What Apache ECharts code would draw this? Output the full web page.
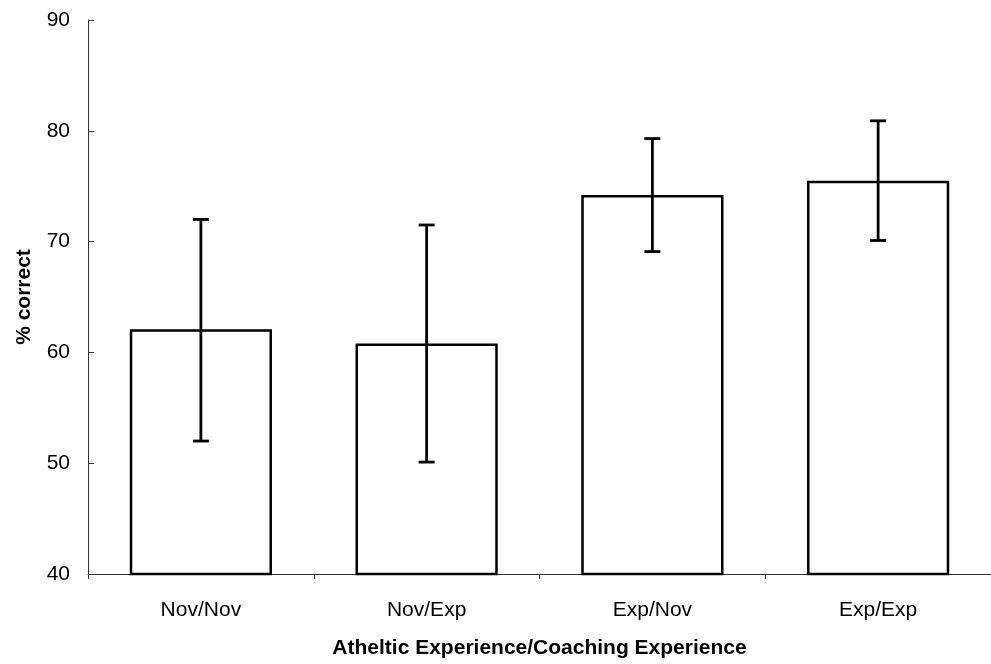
<!DOCTYPE html>
<html><head><meta charset="utf-8">
<script src="https://cdn.jsdelivr.net/npm/echarts@6/dist/echarts.min.js"></script>
<style>html,body{margin:0;padding:0;background:#fff}#c{width:991px;height:664px}</style>
</head><body><div id="c"></div>
<script>
const categories = ['Nov/Nov', 'Nov/Exp', 'Exp/Nov', 'Exp/Exp'];
const means = [62.1, 60.8, 74.2, 75.5];
const errLow = [52.0, 50.1, 69.1, 70.1];
const errHigh = [72.0, 71.5, 79.3, 80.9];
const yTicks = [40, 50, 60, 70, 80, 90];

const chart = echarts.init(document.getElementById('c'));
const font = '"Liberation Sans", Arial, sans-serif';
chart.setOption({
  animation: false,
  grid: { left: 88, top: 20, width: 908, height: 554 },
  xAxis: {
    type: 'category', data: categories,
    name: 'Atheltic Experience/Coaching Experience', nameLocation: 'middle', nameGap: 64,
    nameTextStyle: { fontFamily: font, fontSize: 21, fontWeight: 'bold', color: '#000' },
    axisLine: { lineStyle: { color: '#333', width: 1 } },
    axisTick: { show: true, length: 5, lineStyle: { color: '#333' } },
    axisLabel: { fontFamily: font, fontSize: 21, color: '#000', margin: 26 }
  },
  yAxis: {
    type: 'value', min: yTicks[0], max: yTicks[yTicks.length - 1], interval: 10,
    name: '% correct', nameLocation: 'middle', nameGap: 53,
    nameTextStyle: { fontFamily: font, fontSize: 21, fontWeight: 'bold', color: '#000' },
    axisLine: { show: true, lineStyle: { color: '#333', width: 1 } },
    axisTick: { show: true, inside: true, length: 6, lineStyle: { color: '#333' } },
    axisLabel: { fontFamily: font, fontSize: 21, color: '#000', margin: 18 },
    splitLine: { show: false }
  },
  series: [
    {
      type: 'bar', data: means, barWidth: '63%',
      itemStyle: { color: '#fff', borderColor: '#000', borderWidth: 2.5 }
    },
    {
      type: 'custom', z: 10,
      data: categories.map((c, i) => [i, errLow[i], errHigh[i]]),
      renderItem: function (params, api) {
        const lo = api.coord([api.value(0), api.value(1)]);
        const hi = api.coord([api.value(0), api.value(2)]);
        const hw = 8;
        const st = { stroke: '#000', lineWidth: 2.8 };
        return {
          type: 'group', children: [
            { type: 'line', shape: { x1: hi[0], y1: hi[1], x2: lo[0], y2: lo[1] }, style: st },
            { type: 'line', shape: { x1: hi[0] - hw, y1: hi[1], x2: hi[0] + hw, y2: hi[1] }, style: st },
            { type: 'line', shape: { x1: lo[0] - hw, y1: lo[1], x2: lo[0] + hw, y2: lo[1] }, style: st }
          ]
        };
      }
    }
  ]
});
</script></body></html>
